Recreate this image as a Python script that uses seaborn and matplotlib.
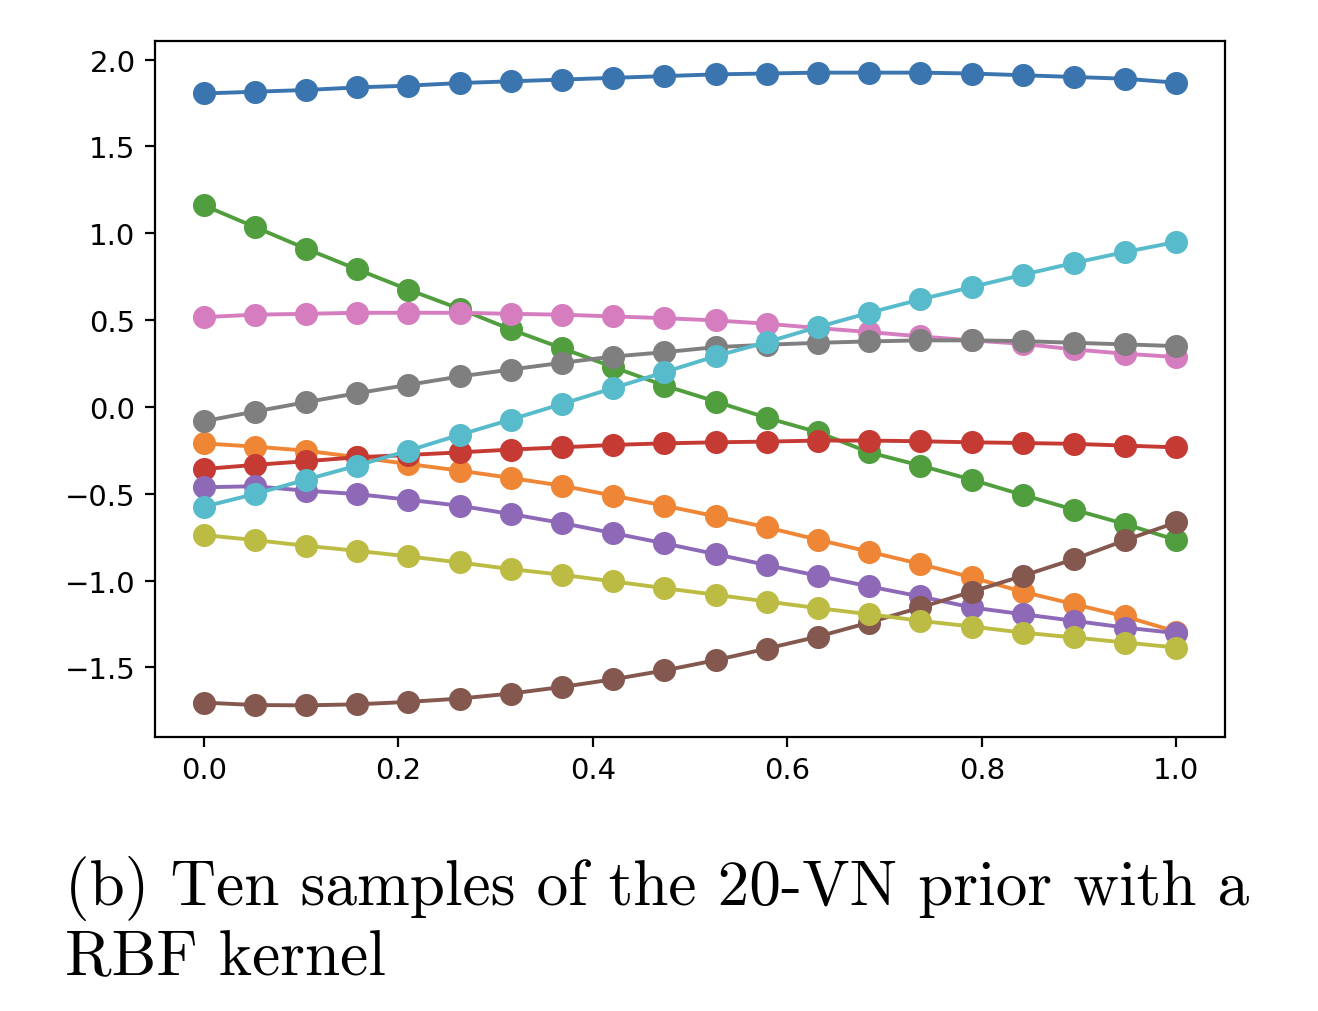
import numpy as np
import pandas as pd
import matplotlib
matplotlib.use("Agg")
import matplotlib.pyplot as plt
import seaborn as sns

# 20 evaluation points on [0, 1]
x_vals = [i / 19 for i in range(20)]

s0_blue   = [1.805, 1.815, 1.825, 1.84, 1.85, 1.865, 1.875, 1.885, 1.895, 1.905,
             1.915, 1.92, 1.925, 1.925, 1.925, 1.92, 1.91, 1.90, 1.89, 1.867]
s1_orange = [-0.21, -0.229, -0.252, -0.29, -0.329, -0.367, -0.409, -0.454, -0.511, -0.569,
             -0.63, -0.694, -0.765, -0.834, -0.905, -0.982, -1.065, -1.136, -1.207, -1.295]
s2_green  = [1.161, 1.036, 0.911, 0.792, 0.675, 0.565, 0.446, 0.338, 0.229, 0.123,
             0.031, -0.063, -0.146, -0.262, -0.338, -0.419, -0.507, -0.592, -0.675, -0.767]
s3_red    = [-0.358, -0.334, -0.313, -0.29, -0.277, -0.262, -0.246, -0.233, -0.219, -0.21,
             -0.204, -0.2, -0.194, -0.194, -0.198, -0.204, -0.208, -0.213, -0.223, -0.233]
s4_purple = [-0.463, -0.457, -0.483, -0.502, -0.535, -0.569, -0.617, -0.669, -0.727, -0.786,
             -0.848, -0.911, -0.973, -1.034, -1.092, -1.155, -1.194, -1.232, -1.271, -1.303]
s5_brown  = [-1.703, -1.717, -1.719, -1.713, -1.699, -1.68, -1.651, -1.613, -1.569, -1.518,
             -1.459, -1.392, -1.323, -1.242, -1.155, -1.065, -0.973, -0.877, -0.768, -0.665]
s6_pink   = [0.517, 0.531, 0.536, 0.542, 0.542, 0.542, 0.536, 0.531, 0.521, 0.511,
             0.498, 0.479, 0.454, 0.431, 0.406, 0.383, 0.363, 0.331, 0.306, 0.287]
s7_grey   = [-0.083, -0.027, 0.027, 0.079, 0.127, 0.175, 0.215, 0.254, 0.29, 0.315,
             0.344, 0.358, 0.369, 0.377, 0.383, 0.383, 0.379, 0.369, 0.36, 0.35]
s8_olive  = [-0.738, -0.767, -0.8, -0.829, -0.861, -0.896, -0.934, -0.967, -1.005, -1.044,
             -1.082, -1.121, -1.159, -1.194, -1.232, -1.265, -1.3, -1.328, -1.357, -1.386]
s9_cyan   = [-0.575, -0.502, -0.419, -0.338, -0.252, -0.161, -0.073, 0.017, 0.108, 0.2,
             0.292, 0.373, 0.46, 0.542, 0.619, 0.69, 0.761, 0.829, 0.892, 0.95]

samples = [s0_blue, s1_orange, s2_green, s3_red, s4_purple,
           s5_brown, s6_pink, s7_grey, s8_olive, s9_cyan]

colors = ["#3b75af", "#ef8636", "#519e3e", "#c53a32", "#8d69b8",
          "#84584e", "#d57dbf", "#7f7f7f", "#bcbc45", "#58bbcc"]

caption_line1 = "(b) Ten samples of the 20-VN prior with a"
caption_line2 = "RBF kernel"

rows = []
for k, s in enumerate(samples):
    for xv, yv in zip(x_vals, s):
        rows.append({"x": xv, "y": yv, "sample": k})
df = pd.DataFrame(rows)

sns.set_style("ticks")
plt.rcParams["font.family"] = ["DejaVu Sans"]
plt.rcParams["axes.linewidth"] = 0.8
plt.rcParams["text.color"] = "black"

fig = plt.figure(figsize=(6.59, 5.06), dpi=200)
ax = fig.add_axes([155 / 1318, 1 - 738 / 1012, (1225 - 155) / 1318, (738 - 42) / 1012])

sns.lineplot(data=df, x="x", y="y", hue="sample", palette=colors,
             marker="o", markersize=8.3, markeredgewidth=0, linewidth=1.4,
             legend=False, ax=ax, sort=False)

ax.set_xlabel("")
ax.set_ylabel("")
ax.margins(x=0.05, y=0.05)
ax.set_xticks([0.0, 0.2, 0.4, 0.6, 0.8, 1.0])
ax.set_yticks([-1.5, -1.0, -0.5, 0.0, 0.5, 1.0, 1.5, 2.0])
ax.set_yticklabels(["\u22121.5", "\u22121.0", "\u22120.5", "0.0", "0.5", "1.0", "1.5", "2.0"])
ax.tick_params(labelsize=10.5, length=3.5, width=0.8, color="black", labelcolor="black")
for sp in ax.spines.values():
    sp.set_visible(True)
    sp.set_color("black")
    sp.set_linewidth(0.8)

fig.text(65 / 1318, 1 - 905 / 1012, caption_line1, family="cmr10", fontsize=22.8,
         ha="left", va="baseline", color="black")
fig.text(65 / 1318, 1 - 975 / 1012, caption_line2, family="cmr10", fontsize=22.8,
         ha="left", va="baseline", color="black")

fig.savefig("out.png", dpi=200, facecolor="white")
